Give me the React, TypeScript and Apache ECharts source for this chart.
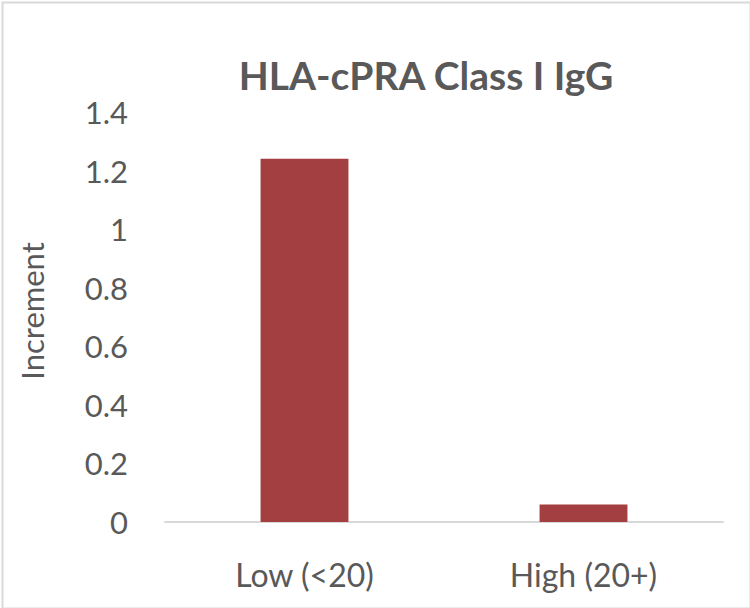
import React, { useEffect, useRef } from "react";
import * as echarts from "echarts";

const categories = ["Low (<20)", "High (20+)"];
const values = [1.24, 0.06];
const titleText = "HLA-cPRA Class I IgG";
const yAxisName = "Increment";

export default function App() {
  const ref = useRef<HTMLDivElement>(null);
  useEffect(() => {
    if (!ref.current) return;
    const chart = echarts.init(ref.current, undefined, { renderer: "svg" });
    const font = "Lato";
    chart.setOption({
      animation: false,
      backgroundColor: "#ffffff",
      graphic: [
        {
          type: "rect",
          left: 0,
          top: 0,
          shape: { x: 1, y: 1, width: 748, height: 606 },
          style: { fill: "none", stroke: "#d9d9d9", lineWidth: 2 },
          silent: true,
        },
      ],
      title: {
        text: titleText,
        left: 421,
        textAlign: "center",
        top: 50,
        textStyle: { fontFamily: font, fontSize: 39, fontWeight: "bold", color: "#595959" },
      },
      grid: { left: 165, right: 27, top: 112, bottom: 86 },
      xAxis: {
        type: "category",
        data: categories,
        axisLine: { lineStyle: { color: "#d9d9d9", width: 2 } },
        axisTick: { show: false },
        axisLabel: { fontFamily: font, fontSize: 32, color: "#595959", margin: 36 },
      },
      yAxis: {
        type: "value",
        min: 0,
        max: 1.4,
        interval: 0.2,
        name: yAxisName,
        nameLocation: "middle",
        nameGap: 118,
        nameTextStyle: { fontFamily: font, fontSize: 31, color: "#595959", padding: [0, 0, 0, 12] },
        axisLine: { show: false },
        axisTick: { show: false },
        splitLine: { show: false },
        axisLabel: { fontFamily: font, fontSize: 31, color: "#595959", margin: 37 },
      },
      series: [
        {
          type: "bar",
          data: values,
          barWidth: "31.5%",
          itemStyle: { color: "#a33f40" },
        },
      ],
    });
    return () => chart.dispose();
  }, []);
  return (
    <div
      ref={ref}
      style={{ position: "absolute", left: 0, top: 0, width: 750, height: 608 }}
    />
  );
}
